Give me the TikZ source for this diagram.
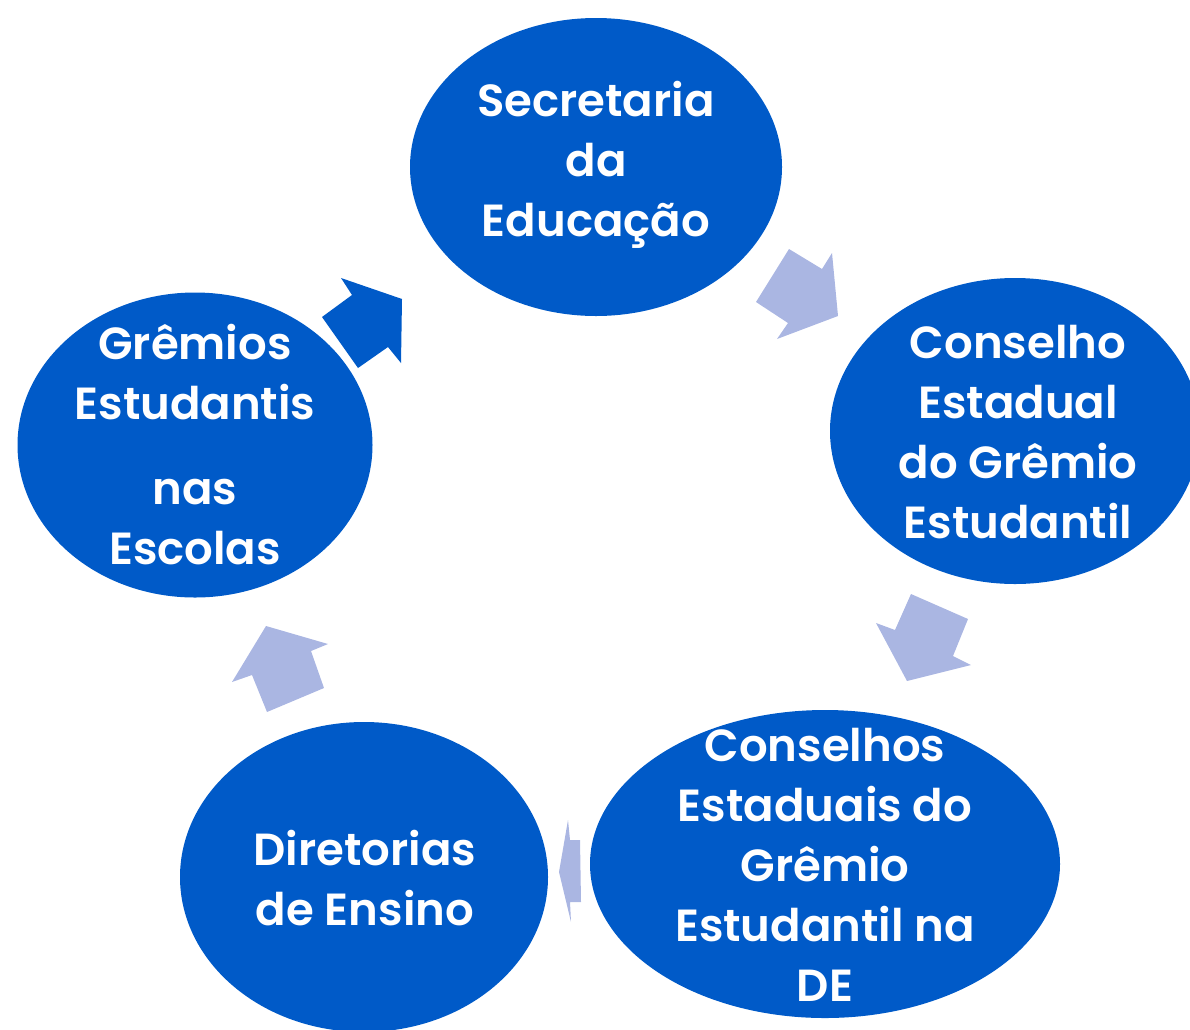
\documentclass[tikz,border=0pt]{standalone}
\usepackage{fontspec}
\setmainfont{Poppins}[UprightFont=* SemiBold]
\usetikzlibrary{shapes.geometric}
\definecolor{dblue}{RGB}{0,90,200}
\definecolor{lblue}{RGB}{170,182,226}
\tikzset{
  bubble/.style={ellipse, fill=dblue, draw=none, inner sep=0pt},
  lbl/.style={text=white, align=center, font=\fontsize{45}{60}\selectfont, inner sep=0pt},
  larrow/.style={fill=lblue, draw=none},
  darrow/.style={fill=dblue, draw=none},
}
\begin{document}
\begin{tikzpicture}[x=1pt,y=-1pt]
\useasboundingbox (0,0) rectangle (1190,1029);
\node[bubble, minimum width=372pt, minimum height=298pt] (sec) at (596,167) {};
\node[bubble, minimum width=370pt, minimum height=306pt] (cons) at (1015,431) {};
\node[bubble, minimum width=470pt, minimum height=308pt] (de) at (825,864) {};
\node[bubble, minimum width=368pt, minimum height=310pt] (dir) at (364,877) {};
\node[bubble, minimum width=355pt, minimum height=305pt] (gre) at (195,445) {};
\node[lbl] (tsec) at (596,165) {Secretaria\\da\\Educação};
\node[lbl] (tcons) at (1018,432) {Conselho\\Estadual\\do Grêmio\\Estudantil};
\node[lbl] (tde) at (825,865) {Conselhos\\Estaduais do\\Grêmio\\Estudantil na\\DE};
\node[lbl] (tdir) at (365,878) {Diretorias\\de Ensino};
\node[lbl] (tgre) at (195,445) {Grêmios\\Estudantis\\[25pt]nas\\Escolas};
\fill[larrow] (789,249)--(822,269)--(832,253)--(838,316)--(777,339)--(788,323)--(756,302)--cycle;
\fill[larrow] (911,594)--(968,619)--(953,656)--(971,665)--(907,681)--(876,623)--(895,630)--cycle;
\fill[larrow] (568,820)--(570,840)--(580,840)--(581,902)--(570,902)--(571,922)--(559,872)--cycle;
\fill[larrow] (266,626)--(328,644)--(311,651)--(324,688)--(267,712)--(252,675)--(232,682)--cycle;
\fill[darrow] (341,278)--(402,299)--(401,363)--(388,347)--(358,368)--(322,317)--(352,295)--cycle;
\end{tikzpicture}
\end{document}
